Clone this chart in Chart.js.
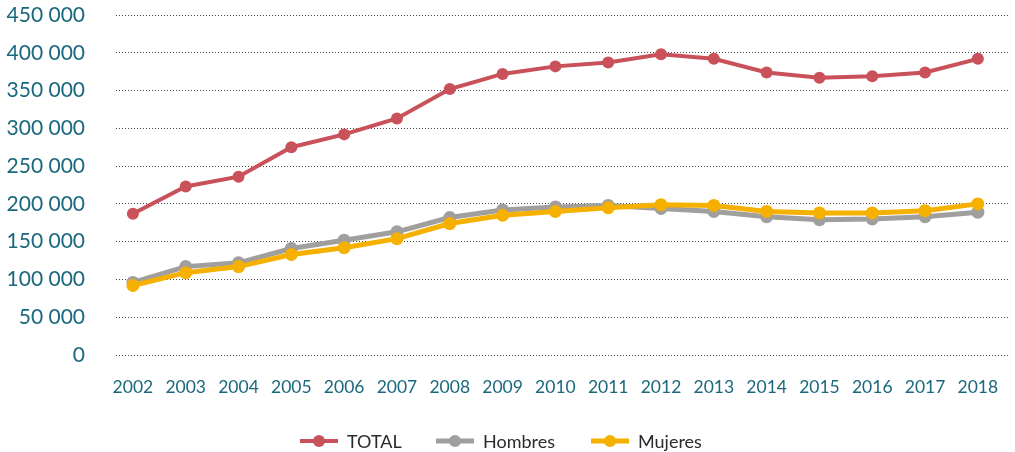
<!DOCTYPE html>
<html>
<head>
<meta charset="utf-8">
<script src="https://cdn.jsdelivr.net/npm/chart.js@4/dist/chart.umd.min.js"></script>
<style>
  html, body { margin: 0; padding: 0; background: #fff; }
  #wrap { width: 1015px; height: 452px; position: relative; }
</style>
</head>
<body>
<div id="wrap"><canvas id="chart"></canvas></div>
<script>
const years = [2002, 2003, 2004, 2005, 2006, 2007, 2008, 2009, 2010, 2011, 2012, 2013, 2014, 2015, 2016, 2017, 2018];
const total = [187000, 223000, 236000, 275000, 292000, 313000, 352000, 372000, 382000, 387000, 398000, 392000, 374000, 367000, 369000, 374000, 392000];
const hombres = [96000, 117000, 122000, 141000, 152000, 163000, 182000, 192000, 196000, 198000, 194000, 190000, 183000, 179000, 180000, 183000, 189000];
const mujeres = [92000, 109000, 117000, 133000, 142000, 154000, 174000, 185000, 190000, 195000, 199000, 198000, 190000, 188000, 188000, 191000, 200000];
const yTicks = [0, 50000, 100000, 150000, 200000, 250000, 300000, 350000, 400000, 450000];

const teal = '#1a687d';
const series = [
  { label: 'TOTAL', values: total, color: '#c9515a', width: 4, radius: 6, order: 1 },
  { label: 'Hombres', values: hombres, color: '#a09f9e', width: 5, radius: 6.5, order: 2 },
  { label: 'Mujeres', values: mujeres, color: '#f5b000', width: 5, radius: 6.5, order: 0 },
];

const fmt = (v) => String(v).replace(/\B(?=(\d{3})+(?!\d))/g, ' ');

// leyenda dibujada a mano: línea con punto + texto
const legendPlugin = {
  id: 'lineLegend',
  afterDraw(chart) {
    const ctx = chart.ctx;
    const y = 441;
    const items = [
      { x: 300, s: series[0] },
      { x: 436, s: series[1] },
      { x: 591, s: series[2] },
    ];
    ctx.save();
    ctx.font = '18px Lato';
    ctx.textBaseline = 'middle';
    items.forEach(({ x, s }) => {
      ctx.strokeStyle = s.color;
      ctx.lineWidth = s.width;
      ctx.beginPath();
      ctx.moveTo(x, y);
      ctx.lineTo(x + 38, y);
      ctx.stroke();
      ctx.fillStyle = s.color;
      ctx.beginPath();
      ctx.arc(x + 19, y, 6, 0, Math.PI * 2);
      ctx.fill();
      ctx.fillStyle = '#2b2b2b';
      ctx.fillText(s.label, x + 47, y + 1);
    });
    ctx.restore();
  },
};

new Chart(document.getElementById('chart'), {
  type: 'line',
  data: {
    datasets: series.map((s) => ({
      label: s.label,
      data: years.map((yr, i) => ({ x: yr, y: s.values[i] })),
      borderColor: s.color,
      backgroundColor: s.color,
      borderWidth: s.width,
      pointRadius: s.radius,
      pointHoverRadius: s.radius,
      pointBorderWidth: 0,
      tension: 0,
      order: s.order,
    })),
  },
  options: {
    responsive: true,
    maintainAspectRatio: false,
    animation: false,
    layout: { padding: { top: 15, right: 2, left: 0, bottom: 0 } },
    plugins: { legend: { display: false }, tooltip: { enabled: false } },
    scales: {
      x: {
        type: 'linear',
        min: 2001.68,
        max: 2018.58,
        afterBuildTicks: (scale) => { scale.ticks = years.map((v) => ({ value: v })); },
        afterFit: (scale) => { scale.height = 97; scale.paddingLeft = 0; scale.paddingRight = 0; },
        grid: { display: false, drawTicks: false },
        border: { display: false },
        ticks: {
          color: teal,
          font: { family: 'Lato', size: 17.5 },
          padding: 22,
          maxRotation: 0,
          callback: (v) => String(v),
        },
      },
      y: {
        min: 0,
        max: 450000,
        afterBuildTicks: (scale) => { scale.ticks = yTicks.map((v) => ({ value: v })); },
        afterFit: (scale) => { scale.width = 116; scale.paddingTop = 0; scale.paddingBottom = 0; },
        grid: { color: '#444', lineWidth: 1, drawTicks: false },
        border: { display: false, dash: [1, 2] },
        ticks: {
          color: teal,
          font: { family: 'Lato', size: 21 },
          padding: 31,
          callback: (v) => fmt(v),
        },
      },
    },
  },
  plugins: [legendPlugin],
});
</script>
</body>
</html>
